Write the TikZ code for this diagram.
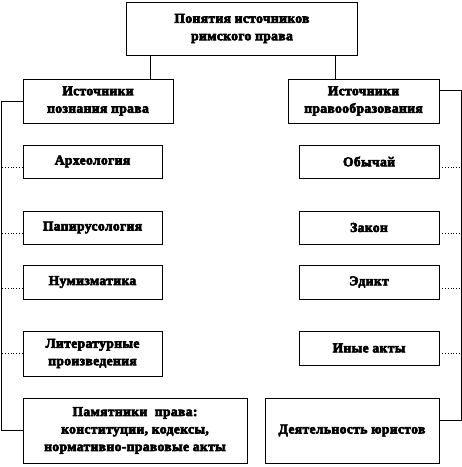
\documentclass[tikz,border=0pt]{standalone}
\usepackage{fontspec}
\setmainfont{Liberation Serif}[BoldFeatures={FakeBold=4.5,LetterSpace=3}]
\begin{document}
\begin{tikzpicture}[x=1pt,y=-1pt,
  box/.style={draw=black,line width=0.8pt,fill=white,align=center,inner sep=0pt,
    font=\fontsize{13.5}{17.5}\selectfont\bfseries},
  solidline/.style={draw=black,line width=0.9pt},
  dotline/.style={draw=black,line width=0.8pt,dotted}]
\useasboundingbox (0,0) rectangle (462,467);
\node[box,minimum width=231pt,minimum height=53pt] (top) at (242,28.5) {Понятия источников\\римского права};
\node[box,minimum width=150pt,minimum height=44pt] (L1) at (98,101) {Источники\\познания права};
\node[box,minimum width=151pt,minimum height=44pt] (R1) at (363.5,101) {Источники\\правообразования};
\node[box,minimum width=139pt,minimum height=33pt] (arch) at (92.5,161.5) {Археология};
\node[box,minimum width=139pt,minimum height=33pt] (pap) at (92.5,227.5) {Папирусология};
\node[box,minimum width=139pt,minimum height=34pt] (num) at (92.5,282) {Нумизматика};
\node[box,minimum width=139pt,minimum height=45pt] (lit) at (92.5,353.5) {Литературные\\произведения};
\node[box,minimum width=224pt,minimum height=65pt] (pam) at (135,430.5) {Памятники\ \ права:\\конституции, кодексы,\\нормативно-правовые акты};
\node[box,minimum width=140pt,minimum height=33pt] (obi) at (369,161.5) {Обычай};
\node[box,minimum width=140pt,minimum height=33pt] (zak) at (369,227.5) {Закон};
\node[box,minimum width=140pt,minimum height=34pt] (edi) at (369,282) {Эдикт};
\node[box,minimum width=140pt,minimum height=34pt] (iny) at (369,348) {Иные акты};
\node[box,minimum width=174pt,minimum height=65pt] (dej) at (352,430.5) {Деятельность юристов};
\coordinate (tl) at (1,0);
\coordinate (tr) at (461,0);
\coordinate (vl) at (150,0);
\coordinate (vr) at (335,0);
% top connectors
\draw[solidline] (top.south -| vl) -- (L1.north -| vl);
\draw[solidline] (top.south -| vr) -- (R1.north -| vr);
% left trunk
\draw[solidline] (L1.west) -- (L1.west -| tl) |- (pam.west);
% right trunk
\coordinate (r0) at ([yshift=11pt]R1.east);
\coordinate (r5) at ([yshift=10.5pt]dej.east);
\draw[solidline] (r0) -- (r0 -| tr) |- (r5);
% left branches
\coordinate (a1) at ([yshift=-5.5pt]arch.west);
\coordinate (a2) at ([yshift=-5.5pt]pap.west);
\coordinate (a3) at ([yshift=-6pt]num.west);
\coordinate (a4) at (lit.west);
\draw[dotline] (a1) -- (a1 -| tl);
\draw[dotline] (a2) -- (a2 -| tl);
\draw[dotline] (a3) -- (a3 -| tl);
\draw[dotline] (a4) -- (a4 -| tl);
% right branches
\coordinate (b1) at ([yshift=-5.5pt]obi.east);
\coordinate (b2) at ([yshift=-5.5pt]zak.east);
\coordinate (b3) at ([yshift=-6pt]edi.east);
\coordinate (b4) at ([yshift=-5pt]iny.east);
\draw[dotline] (b1) -- (b1 -| tr);
\draw[dotline] (b2) -- (b2 -| tr);
\draw[dotline] (b3) -- (b3 -| tr);
\draw[dotline] (b4) -- (b4 -| tr);
\end{tikzpicture}
\end{document}
